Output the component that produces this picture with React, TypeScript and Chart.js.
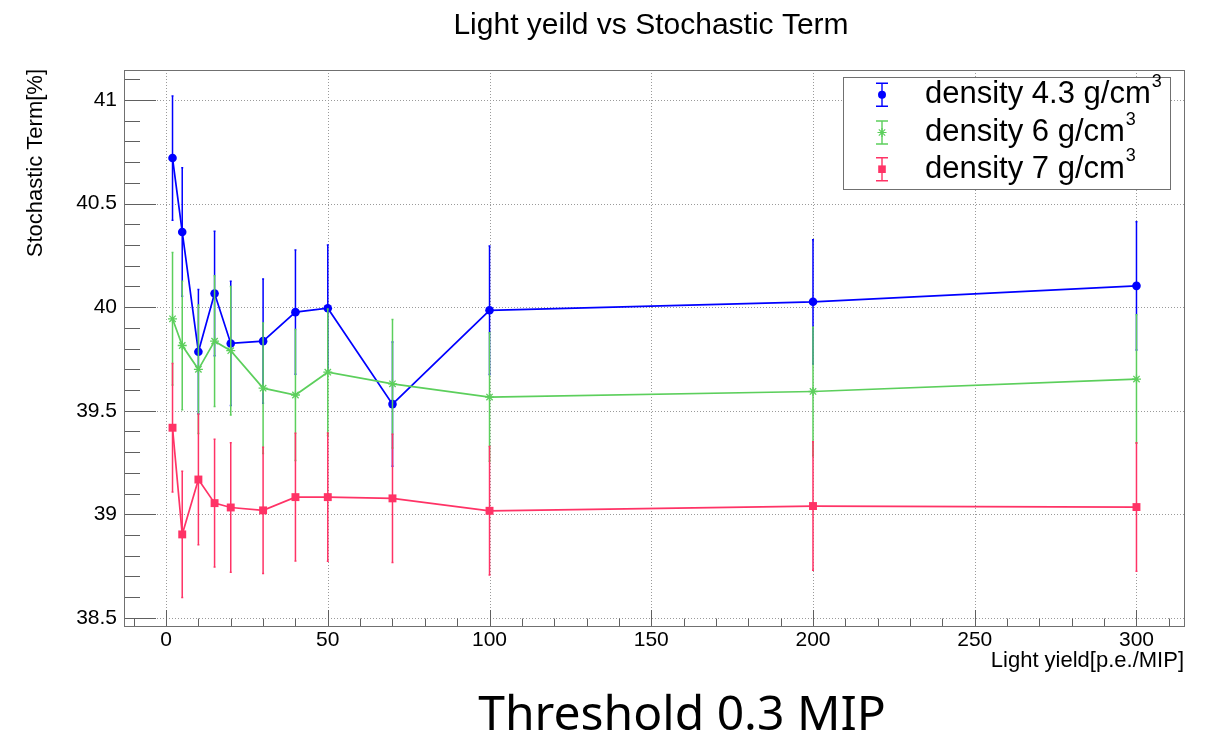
import { useEffect, useRef } from "react";
import { Chart, registerables } from "chart.js";

Chart.register(...registerables);

// Light yield values (p.e./MIP) shared by all three series
const lightYield = [2, 5, 10, 15, 20, 30, 40, 50, 70, 100, 200, 300];

// Stochastic term (%) and its uncertainty for each scintillator density
const density43 = [40.72, 40.363, 39.785, 40.066, 39.825, 39.836, 39.976, 39.995, 39.532, 39.985, 40.026, 40.103];
const density43Err = [0.3, 0.31, 0.3, 0.3, 0.3, 0.3, 0.3, 0.305, 0.3, 0.31, 0.3, 0.31];
const density6 = [39.944, 39.815, 39.7, 39.836, 39.79, 39.609, 39.576, 39.686, 39.63, 39.566, 39.593, 39.653];
const density6Err = [0.32, 0.31, 0.31, 0.316, 0.31, 0.315, 0.316, 0.305, 0.31, 0.31, 0.31, 0.31];
const density7 = [39.418, 38.903, 39.168, 39.054, 39.033, 39.019, 39.083, 39.083, 39.077, 39.017, 39.04, 39.035];
const density7Err = [0.31, 0.305, 0.315, 0.308, 0.313, 0.305, 0.308, 0.31, 0.31, 0.31, 0.31, 0.31];

const seriesLabels = ["density 4.3 g/cm", "density 6 g/cm", "density 7 g/cm"];

// Axis ticks
const xTickValues = [0, 50, 100, 150, 200, 250, 300];
const yTickValues = [38.5, 39, 39.5, 40, 40.5, 41];

const BLUE = "#0000ff";
const GREEN = "#5ccf5c";
const PINK = "#ff3366";
const FONT = '"Liberation Sans", Arial, Helvetica, sans-serif';

type Marker = "circle" | "star" | "rect";

function drawMarker(ctx: CanvasRenderingContext2D, kind: Marker, x: number, y: number, color: string) {
  ctx.save();
  ctx.fillStyle = color;
  ctx.strokeStyle = color;
  if (kind === "circle") {
    ctx.beginPath();
    ctx.arc(x, y, 4, 0, Math.PI * 2);
    ctx.fill();
  } else if (kind === "rect") {
    ctx.fillRect(x - 3.8, y - 3.8, 7.6, 7.6);
  } else {
    ctx.lineWidth = 1.2;
    const r = 4.5;
    const d = r * Math.SQRT1_2;
    ctx.beginPath();
    ctx.moveTo(x - r, y);
    ctx.lineTo(x + r, y);
    ctx.moveTo(x, y - r);
    ctx.lineTo(x, y + r);
    ctx.moveTo(x - d, y - d);
    ctx.lineTo(x + d, y + d);
    ctx.moveTo(x - d, y + d);
    ctx.lineTo(x + d, y - d);
    ctx.stroke();
  }
  ctx.restore();
}

// Frame, dotted grid, inward ticks and tick labels in the style of a physics histogram pad
const framePlugin = {
  id: "frame",
  beforeDatasetsDraw(chart: any) {
    const { ctx, chartArea: a, scales } = chart;
    const xs = scales.x;
    const ys = scales.y;
    ctx.save();
    ctx.lineWidth = 1;
    ctx.strokeStyle = "#9a9a9a";
    ctx.setLineDash([1, 2]);
    for (const v of xTickValues) {
      const px = Math.round(xs.getPixelForValue(v)) + 0.5;
      ctx.beginPath();
      ctx.moveTo(px, a.top);
      ctx.lineTo(px, a.bottom);
      ctx.stroke();
    }
    for (const v of yTickValues) {
      const py = Math.round(ys.getPixelForValue(v)) + 0.5;
      ctx.beginPath();
      ctx.moveTo(a.left, py);
      ctx.lineTo(a.right, py);
      ctx.stroke();
    }
    ctx.setLineDash([]);
    ctx.strokeStyle = "#606060";
    // x ticks: major every 50, minor every 10
    for (let v = -10; v <= 310; v += 10) {
      const px = Math.round(xs.getPixelForValue(v)) + 0.5;
      const len = v % 50 === 0 ? 17 : 8.5;
      ctx.beginPath();
      ctx.moveTo(px, a.bottom);
      ctx.lineTo(px, a.bottom - len);
      ctx.stroke();
    }
    // y ticks: major every 0.5, minor every 0.1
    for (let k = 385; k <= 411; k += 1) {
      const v = k / 10;
      const py = Math.round(ys.getPixelForValue(v)) + 0.5;
      const len = k % 5 === 0 ? 32 : 16;
      ctx.beginPath();
      ctx.moveTo(a.left, py);
      ctx.lineTo(a.left + len, py);
      ctx.stroke();
    }
    ctx.strokeStyle = "#707070";
    ctx.strokeRect(a.left + 0.5, a.top + 0.5, a.width - 1, a.height - 1);

    // tick labels
    ctx.fillStyle = "#000";
    ctx.font = `21px ${FONT}`;
    ctx.textBaseline = "middle";
    ctx.textAlign = "center";
    for (const v of xTickValues) {
      ctx.fillText(String(v), xs.getPixelForValue(v), a.bottom + 13);
    }
    ctx.textAlign = "right";
    for (const v of yTickValues) {
      ctx.fillText(String(v), a.left - 7, ys.getPixelForValue(v));
    }
    ctx.restore();
  },
};

// Vertical error bars, drawn just before each series' line and markers
const errorBarPlugin = {
  id: "errorBars",
  beforeDatasetDraw(chart: any, args: any) {
    const ds = chart.data.datasets[args.index];
    const errs: number[] = ds.errors;
    if (!errs) return;
    const { ctx } = chart;
    const xs = chart.scales.x;
    const ys = chart.scales.y;
    ctx.save();
    ctx.strokeStyle = ds.borderColor;
    ctx.lineWidth = 1.5;
    ds.data.forEach((p: { x: number; y: number }, i: number) => {
      const px = xs.getPixelForValue(p.x);
      const top = ys.getPixelForValue(p.y + errs[i]);
      const bot = ys.getPixelForValue(p.y - errs[i]);
      ctx.beginPath();
      ctx.moveTo(px, top);
      ctx.lineTo(px, bot);
      ctx.moveTo(px - 1, top);
      ctx.lineTo(px + 1, top);
      ctx.moveTo(px - 1, bot);
      ctx.lineTo(px + 1, bot);
      ctx.stroke();
    });
    ctx.restore();
  },
};

// Titles, axis titles, legend and caption
const textPlugin = {
  id: "texts",
  afterDraw(chart: any) {
    const { ctx, chartArea: a } = chart;
    ctx.save();
    ctx.fillStyle = "#000";

    ctx.font = `30px ${FONT}`;
    ctx.textAlign = "center";
    ctx.textBaseline = "alphabetic";
    ctx.fillText("Light yeild vs Stochastic Term", 651, 34);

    ctx.font = `22px ${FONT}`;
    ctx.textAlign = "right";
    ctx.fillText("Light yield[p.e./MIP]", a.right - 1, 667);

    ctx.save();
    ctx.translate(42, a.top - 1);
    ctx.rotate(-Math.PI / 2);
    ctx.textAlign = "right";
    ctx.fillText("Stochastic Term[%]", 0, 0);
    ctx.restore();

    ctx.font = `48px "Noto Sans", sans-serif`;
    ctx.textAlign = "center";
    ctx.fillText("Threshold 0.3 MIP", 682, 730);

    // legend box
    const bx = 843;
    const by = 77;
    const bw = 327;
    const bh = 112;
    ctx.fillStyle = "#fff";
    ctx.fillRect(bx, by, bw, bh);
    ctx.strokeStyle = "#707070";
    ctx.lineWidth = 1;
    ctx.strokeRect(bx + 0.5, by + 0.5, bw, bh);

    const colors = [BLUE, GREEN, PINK];
    const markers: Marker[] = ["circle", "star", "rect"];
    const baselines = [103.3, 141, 177.7];
    seriesLabels.forEach((label, i) => {
      const cy = baselines[i] - 8.5;
      const mx = 882;
      ctx.strokeStyle = colors[i];
      ctx.lineWidth = 1.4;
      ctx.beginPath();
      ctx.moveTo(mx, cy - 11.5);
      ctx.lineTo(mx, cy + 11.5);
      ctx.moveTo(mx - 6, cy - 11.5);
      ctx.lineTo(mx + 6, cy - 11.5);
      ctx.moveTo(mx - 6, cy + 11.5);
      ctx.lineTo(mx + 6, cy + 11.5);
      ctx.stroke();
      drawMarker(ctx, markers[i], mx, cy, colors[i]);

      ctx.fillStyle = "#000";
      ctx.textAlign = "left";
      ctx.font = `31px ${FONT}`;
      ctx.fillText(label, 925, baselines[i]);
      const w = ctx.measureText(label).width;
      ctx.font = `18px ${FONT}`;
      ctx.fillText("3", 925 + w + 1, baselines[i] - 16.5);
    });
    ctx.restore();
  },
};

export default function App() {
  const canvasRef = useRef<HTMLCanvasElement | null>(null);

  useEffect(() => {
    const canvas = canvasRef.current;
    if (!canvas) return;
    const makeSeries = (values: number[], errors: number[], color: string, style: string, radius: number, order: number) => ({
      data: lightYield.map((x, i) => ({ x, y: values[i] })),
      errors,
      borderColor: color,
      backgroundColor: color,
      borderWidth: 1.7,
      pointStyle: style,
      pointRadius: radius,
      pointBorderWidth: style === "star" ? 1.3 : 0,
      pointBackgroundColor: color,
      pointBorderColor: color,
      fill: false,
      tension: 0,
      order,
    });

    const chart = new Chart(canvas, {
      type: "line",
      data: {
        datasets: [
          makeSeries(density43, density43Err, BLUE, "circle", 4.3, 2),
          makeSeries(density6, density6Err, GREEN, "star", 4.5, 1),
          makeSeries(density7, density7Err, PINK, "rect", 5.6, 0),
        ] as any,
      },
      options: {
        animation: false,
        responsive: false,
        layout: { padding: { top: 70, right: 21, left: 0, bottom: 0 } },
        plugins: {
          legend: { display: false },
          tooltip: { enabled: false },
          title: { display: false },
        },
        scales: {
          x: {
            type: "linear",
            min: -13,
            max: 315,
            afterBuildTicks: (s: any) => {
              s.ticks = xTickValues.map((value) => ({ value }));
            },
            afterFit: (s: any) => {
              s.height = 112;
            },
            grid: { display: false },
            border: { display: false },
            ticks: { display: false },
          },
          y: {
            type: "linear",
            min: 38.456,
            max: 41.145,
            afterBuildTicks: (s: any) => {
              s.ticks = yTickValues.map((value) => ({ value }));
            },
            afterFit: (s: any) => {
              s.width = 124;
            },
            grid: { display: false },
            border: { display: false },
            ticks: { display: false },
          },
        },
      } as any,
      plugins: [framePlugin, errorBarPlugin, textPlugin],
    });
    return () => chart.destroy();
  }, []);

  return (
    <div style={{ position: "fixed", left: 0, top: 0, width: 1206, height: 739, background: "#fff" }}>
      <canvas ref={canvasRef} width={1206} height={739} style={{ display: "block" }} />
    </div>
  );
}
